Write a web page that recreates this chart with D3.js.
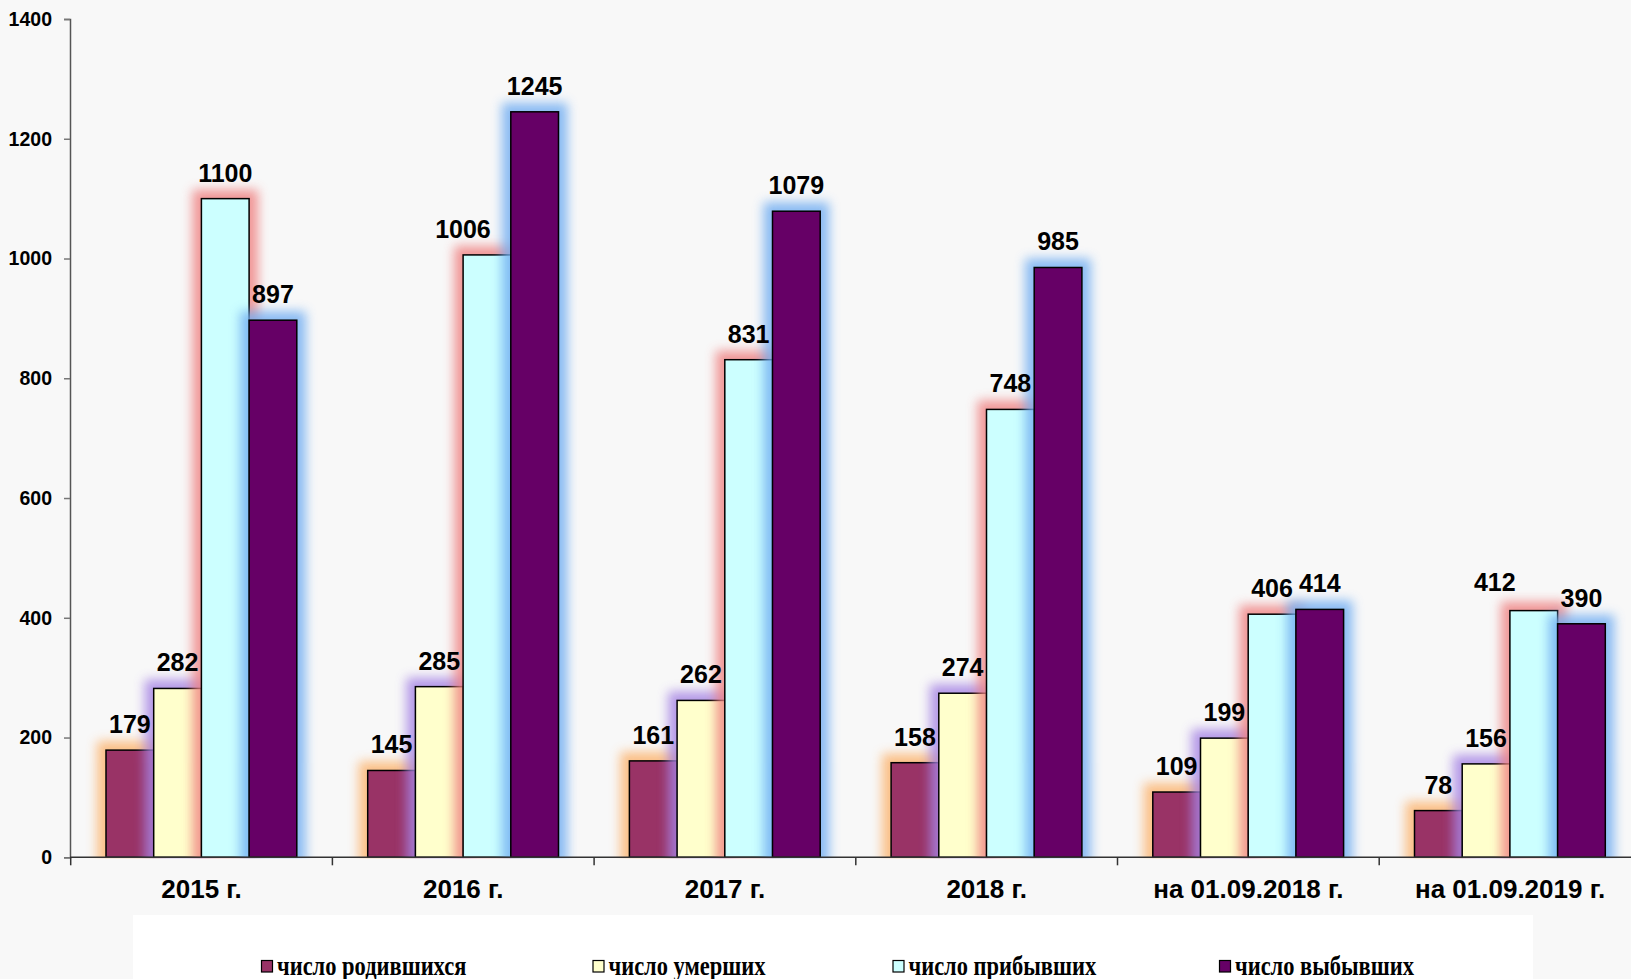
<!DOCTYPE html>
<html><head><meta charset="utf-8">
<script src="https://cdn.jsdelivr.net/npm/d3@7"></script>
<style>
html,body{margin:0;padding:0;background:#f8f8f8;overflow:hidden}
svg{display:block}
</style></head>
<body>
<svg id="chart" width="1631" height="979"></svg>
<script>
// ---- data ----
const categories = ["2015 г.", "2016 г.", "2017 г.", "2018 г.", "на 01.09.2018 г.", "на 01.09.2019 г."];
const seriesNames = ["число родившихся", "число умерших", "число прибывших", "число выбывших"];
const born     = [179, 145, 161, 158, 109, 78];
const died     = [282, 285, 262, 274, 199, 156];
const arrived  = [1100, 1006, 831, 748, 406, 412];
const departed = [897, 1245, 1079, 985, 414, 390];
const yTicks   = [0, 200, 400, 600, 800, 1000, 1200, 1400];

const seriesValues = [born, died, arrived, departed];
const fills = ["#993366", "#FFFFCC", "#CCFFFF", "#660066"];
const glows = ["#fcb46e", "#a684e4", "#ef8282", "#72aef2"];
// manual label nudges seen in the reference (series index, category index) -> [dx, dy]
const labelNudge = {"2-1": [-24, 0], "2-5": [-39, -3]};

const svg = d3.select("#chart");
const x0 = d3.scaleBand().domain(categories).range([70.7, 70.7 + 6 * 261.7]).paddingInner(0).paddingOuter(0);
const x1 = d3.scaleBand().domain(d3.range(seriesNames.length)).range([35.3, 35.3 + 4 * 47.7]).padding(0);
const y = d3.scaleLinear().domain([0, 1400]).range([857.3, 19]);

const defs = svg.append("defs");
defs.append("filter").attr("id", "glow").attr("x", "-60%").attr("y", "-60%").attr("width", "220%").attr("height", "220%")
  .append("feGaussianBlur").attr("stdDeviation", 5.5);
defs.append("clipPath").attr("id", "plotclip").append("rect")
  .attr("x", 0).attr("y", 0).attr("width", 1631).attr("height", y(0) + 1);

// legend box
svg.append("rect").attr("x", 133).attr("y", 915).attr("width", 1400).attr("height", 80).attr("fill", "#ffffff");

// bars
const plot = svg.append("g").attr("clip-path", "url(#plotclip)");
seriesValues.forEach((vals, s) => {
  const g = plot.append("g");
  vals.forEach((v, c) => {
    const bx = x0(categories[c]) + x1(s);
    const bw = x1.bandwidth();
    g.append("rect")
      .attr("x", bx - 9).attr("y", y(v) - 9)
      .attr("width", bw + 18).attr("height", y(0) - y(v) + 18)
      .attr("fill", glows[s]).attr("opacity", 0.82)
      .attr("filter", "url(#glow)");
    g.append("rect")
      .attr("x", bx).attr("y", y(v))
      .attr("width", bw).attr("height", y(0) - y(v))
      .attr("fill", fills[s]).attr("stroke", "#000").attr("stroke-width", 1.5);
  });
});

// y axis
const yAxis = d3.axisLeft(y).tickValues(yTicks).tickSize(6).tickPadding(12).tickFormat(d3.format("d"));
const ya = svg.append("g").attr("transform", "translate(70,0)").call(yAxis);
ya.select(".domain").attr("stroke", "#555").attr("stroke-width", 1.5);
ya.selectAll(".tick line").attr("stroke", "#777").attr("stroke-width", 1.5);
ya.selectAll(".tick text").attr("font-family", "'Liberation Sans', Arial, sans-serif")
  .attr("font-weight", "bold").attr("font-size", 19.5).attr("fill", "#000");

// x axis
svg.append("line").attr("x1", 70).attr("x2", 1631).attr("y1", y(0)).attr("y2", y(0))
  .attr("stroke", "#333").attr("stroke-width", 1.5);
categories.forEach(c => {
  svg.append("line").attr("x1", x0(c)).attr("x2", x0(c)).attr("y1", y(0)).attr("y2", y(0) + 8)
    .attr("stroke", "#333").attr("stroke-width", 1.5);
});
svg.append("g").selectAll("text").data(categories).join("text")
  .attr("x", d => x0(d) + x0.bandwidth() / 2).attr("y", 898.3)
  .attr("text-anchor", "middle")
  .attr("font-family", "'Liberation Sans', Arial, sans-serif")
  .attr("font-weight", "bold").attr("font-size", 26).attr("fill", "#000")
  .text(d => d);

// value labels
seriesValues.forEach((vals, s) => {
  vals.forEach((v, c) => {
    const n = labelNudge[s + "-" + c] || [0, 0];
    svg.append("text")
      .attr("x", x0(categories[c]) + x1(s) + x1.bandwidth() / 2 + n[0])
      .attr("y", y(v) - 17 + n[1])
      .attr("text-anchor", "middle")
      .attr("font-family", "'Liberation Sans', Arial, sans-serif")
      .attr("font-weight", "bold").attr("font-size", 25).attr("fill", "#000")
      .text(v);
  });
});

// legend
const legX = [261, 592.5, 892.5, 1219];
seriesNames.forEach((name, s) => {
  const g = svg.append("g").attr("transform", `translate(${legX[s]},0)`);
  g.append("rect").attr("x", 0.5).attr("y", 960.5).attr("width", 11).attr("height", 11.5)
    .attr("fill", fills[s]).attr("stroke", "#000").attr("stroke-width", 1.2);
  g.append("text")
    .attr("transform", "translate(16,975) scale(1,1.18)")
    .attr("font-family", "'Liberation Serif', 'Times New Roman', serif")
    .attr("font-weight", "bold").attr("font-size", 22.5).attr("fill", "#000")
    .text(name);
});
</script>
</body></html>
